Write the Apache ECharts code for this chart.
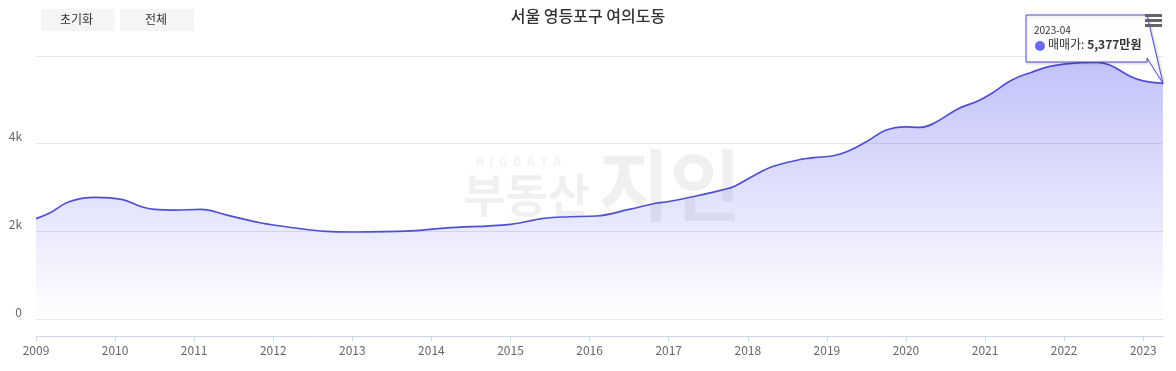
<!DOCTYPE html>
<html><head><meta charset="utf-8">
<script src="https://cdn.jsdelivr.net/npm/echarts@6/dist/echarts.min.js"></script>
<style>html,body{margin:0;padding:0;background:#fff}#c{width:1176px;height:371px}</style>
</head><body><div id="c"></div>
<script>
var TITLE = '서울 영등포구 여의도동';
var SERIES_NAME = '매매가';
var UNIT = '만원';
var dates = ['2009-01','2009-03','2009-06','2009-10','2010-02','2010-05','2010-07','2010-10','2011-02','2011-06','2011-11','2012-04','2012-09','2013-01','2013-10','2014-03','2015-01','2015-06','2015-10','2016-02','2016-07','2016-11','2017-01','2017-05','2017-09','2017-11','2018-03','2018-05','2018-09','2018-11','2019-02','2019-04','2019-07','2019-10','2020-01','2020-03','2020-05','2020-09','2020-12','2021-02','2021-05','2021-08','2021-11','2022-03','2022-06','2022-08','2022-11','2023-01','2023-04'];
var values = [2290,2410,2675,2775,2729,2560,2500,2485,2500,2370,2196,2082,2000,1985,2010,2075,2160,2296,2333,2350,2500,2640,2680,2800,2940,3030,3360,3490,3640,3680,3725,3815,4045,4310,4385,4370,4446,4803,4977,5146,5449,5625,5768,5844,5853,5791,5540,5433,5377];
var yTicks = [0, 2000, 4000, 6000];
var buttons = ['초기화', '전체'];

function toDec(s){var p=s.split('-');return +p[0] + (+p[1]-1)/12;}
var data = dates.map(function(d,i){return [toDec(d), values[i], d];});
var lineColor = '#4f4fd4', dotColor = '#6a6af4';

var chart = echarts.init(document.getElementById('c'), null, {renderer:'canvas'});
var FONT = '"Noto Sans CJK KR", "Noto Sans", sans-serif';

var graphics = [];
buttons.forEach(function(b,i){
  graphics.push({type:'rect', left: 41 + i*79, top: 9, shape:{width:74,height:22}, style:{fill:'#f5f5f5'}, z:50});
  graphics.push({type:'text', left: 41 + i*79 + 37 - (b.length*6), top: 13, style:{text:b, fill:'#333', font:'12px ' + FONT}, z:51});
});
// watermark
graphics.push({type:'text', left:476, top:155, style:{text:'B  I  G  D  A  T  A', fill:'rgba(0,0,0,0.05)', font:'bold 12px ' + FONT}, z:1});
graphics.push({type:'text', left:463, top:172, style:{text:'부동산', fill:'rgba(0,0,0,0.06)', font:'bold 46px ' + FONT}, z:1});
graphics.push({type:'text', left:598, top:146, style:{text:'지인', fill:'rgba(0,0,0,0.06)', font:'bold 78px ' + FONT}, z:1});

var option = {
  animation:false,
  title:{text:TITLE, left:'center', top:3, textStyle:{fontFamily:FONT, fontSize:16, fontWeight:500, color:'#333'}},
  grid:{left:36, right:13, top:56, bottom:52, containLabel:false},
  xAxis:{type:'value', min:2009, max:toDec(dates[dates.length-1]), interval:1, offset:17,
    axisLine:{onZero:false, lineStyle:{color:'#ccd6eb'}},
    axisTick:{show:true, length:5, lineStyle:{color:'#ccd6eb'}},
    splitLine:{show:false},
    axisLabel:{color:'#666', fontSize:12, fontFamily:FONT, margin:8, showMaxLabel:false,
      formatter:function(v){return Number.isInteger(v)? String(v) : '';}}
  },
  yAxis:{type:'value', min:yTicks[0], max:yTicks[yTicks.length-1], interval:yTicks[1]-yTicks[0],
    axisLine:{show:false}, axisTick:{show:false},
    splitLine:{lineStyle:{color:'#e6e6e6'}},
    axisLabel:{color:'#666', fontSize:12, fontFamily:FONT, margin:14, verticalAlign:'bottom', padding:[0,0,1,0],
      formatter:function(v){ if(v===yTicks[yTicks.length-1]) return ''; return v===0?'0':(v/1000)+'k'; }}
  },
  series:[{type:'line', name:SERIES_NAME, data:data, smooth:0.4, showSymbol:false,
    lineStyle:{color:lineColor, width:1.7},
    itemStyle:{color:dotColor},
    areaStyle:{color:new echarts.graphic.LinearGradient(0,56,0,319,[{offset:0,color:'rgba(96,96,240,0.56)'},{offset:1,color:'rgba(96,96,240,0.0)'}], true)},
    z:2
  }],
  graphic:graphics
};
chart.setOption(option);

// tooltip-like callout for the latest point, drawn as graphics
var last = data[data.length-1];
var pt = chart.convertToPixel({gridIndex:0}, [last[0], last[1]]);
var bx = 1026, by = 15, bw = 121, bh = 47;
graphics.push({type:'polygon', shape:{points:[[bx,by],[bx+bw,by],[pt[0],pt[1]],[bx+bw,by+bh-4],[bx+bw,by+bh],[bx,by+bh]]},
  style:{fill:'rgba(255,255,255,0.96)', stroke:lineColor, lineWidth:1, shadowBlur:3, shadowOffsetX:1, shadowOffsetY:1, shadowColor:'rgba(0,0,0,0.2)'}, z:150});
graphics.push({type:'text', left:bx+8, top:by+10, style:{text:last[2], fill:'#333', font:'10px ' + FONT}, z:151});
graphics.push({type:'circle', shape:{cx:bx+14, cy:by+31, r:5}, style:{fill:dotColor}, z:151});
graphics.push({type:'text', left:bx+22, top:by+23, style:{
  text:'{n|' + SERIES_NAME + ': }{b|' + last[1].toLocaleString('en-US') + UNIT + '}',
  rich:{n:{fill:'#333', font:'12px ' + FONT}, b:{fill:'#333', font:'bold 12px ' + FONT}}}, z:151});
// hamburger menu
[15,20,25].forEach(function(y){
  graphics.push({type:'rect', left:1145, top:y-1, shape:{width:17,height:3}, style:{fill:'#666'}, z:200});
});
chart.setOption({graphic:graphics});
</script></body></html>
